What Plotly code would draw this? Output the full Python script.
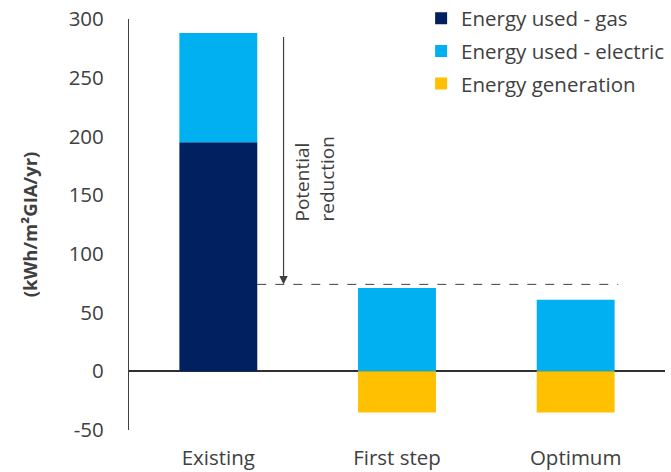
import plotly.graph_objects as go

# Scenario categories and energy values (kWh/m²GIA/yr)
categories = ["Existing", "First step", "Optimum"]
gas_used = [195, 0, 0]
electric_used = [93, 71, 61]
generation = [0, -35, -35]
target_level = 74  # level after potential reduction
y_ticks = [-50, 0, 50, 100, 150, 200, 250, 300]
y_tick_text = ["-50", "0", "50", "100", "150", "200", "250", "300"]

FONT = "'Open Sans', sans-serif"
TEXT = "#404040"
BAR_W = 0.436
FS = 20.5

x_idx = list(range(len(categories)))

fig = go.Figure()
fig.add_trace(go.Bar(x=x_idx, y=gas_used, name="Energy used - gas",
                     marker=dict(color="#002060", line=dict(width=0)),
                     width=BAR_W, legendgroup="g"))
fig.add_trace(go.Bar(x=x_idx, y=electric_used, name="Energy used - electric",
                     marker=dict(color="#00B0F0", line=dict(width=0)),
                     width=BAR_W, legendgroup="e"))
fig.add_trace(go.Bar(x=x_idx, y=generation, name="Energy generation",
                     marker=dict(color="#FFC000", line=dict(width=0)),
                     width=BAR_W, legendgroup="p"))

# Dashed reference line from the existing bar to the optimum bar
fig.add_shape(type="line", xref="x", yref="y",
              x0=BAR_W / 2, x1=2 + BAR_W / 2 + 0.02,
              y0=target_level, y1=target_level,
              line=dict(color="#404040", width=1, dash="dash"))

# Arrow showing the potential reduction
total_existing = gas_used[0] + electric_used[0]
fig.add_annotation(x=0.365, y=target_level, ax=0.365, ay=total_existing - 2,
                   xref="x", yref="y", axref="x", ayref="y",
                   showarrow=True, arrowhead=2, arrowsize=1.4, arrowwidth=1.2,
                   arrowcolor="#404040", text="")
fig.add_annotation(x=0.54, y=164, xref="x", yref="y",
                   text="Potential<br>reduction", showarrow=False,
                   textangle=-90, align="left",
                   font=dict(family=FONT, size=19, color=TEXT))

fig.update_layout(
    width=671, height=472,
    barmode="relative",
    plot_bgcolor="white", paper_bgcolor="white",
    margin=dict(l=129, r=6, t=19, b=42, autoexpand=False),
    font=dict(family=FONT, size=FS, color=TEXT),
    legend=dict(x=0.545, y=1.05, xanchor="left", yanchor="top",
                font=dict(family=FONT, size=FS, color=TEXT),
                itemwidth=30, tracegroupgap=3,
                bgcolor="rgba(0,0,0,0)"),
    xaxis=dict(range=[-0.5, 2.5], tickvals=x_idx, ticktext=categories,
               showline=False, showgrid=False, zeroline=False, ticks="",
               ticklabelstandoff=13,
               tickfont=dict(family=FONT, size=FS, color=TEXT)),
    yaxis=dict(range=[-50, 300], tickvals=y_ticks, ticktext=y_tick_text,
               showgrid=False,
               showline=True, linecolor="#404040", linewidth=1.2,
               zeroline=True, zerolinecolor="#303030", zerolinewidth=1.5,
               ticks="", ticklen=0, ticklabelstandoff=20,
               tickfont=dict(family=FONT, size=FS, color=TEXT),
               title=dict(text="<b>(kWh/m²GIA/yr)</b>", standoff=26,
                          font=dict(family=FONT, size=18.5, color=TEXT))),
)

fig.write_html("out.html")
